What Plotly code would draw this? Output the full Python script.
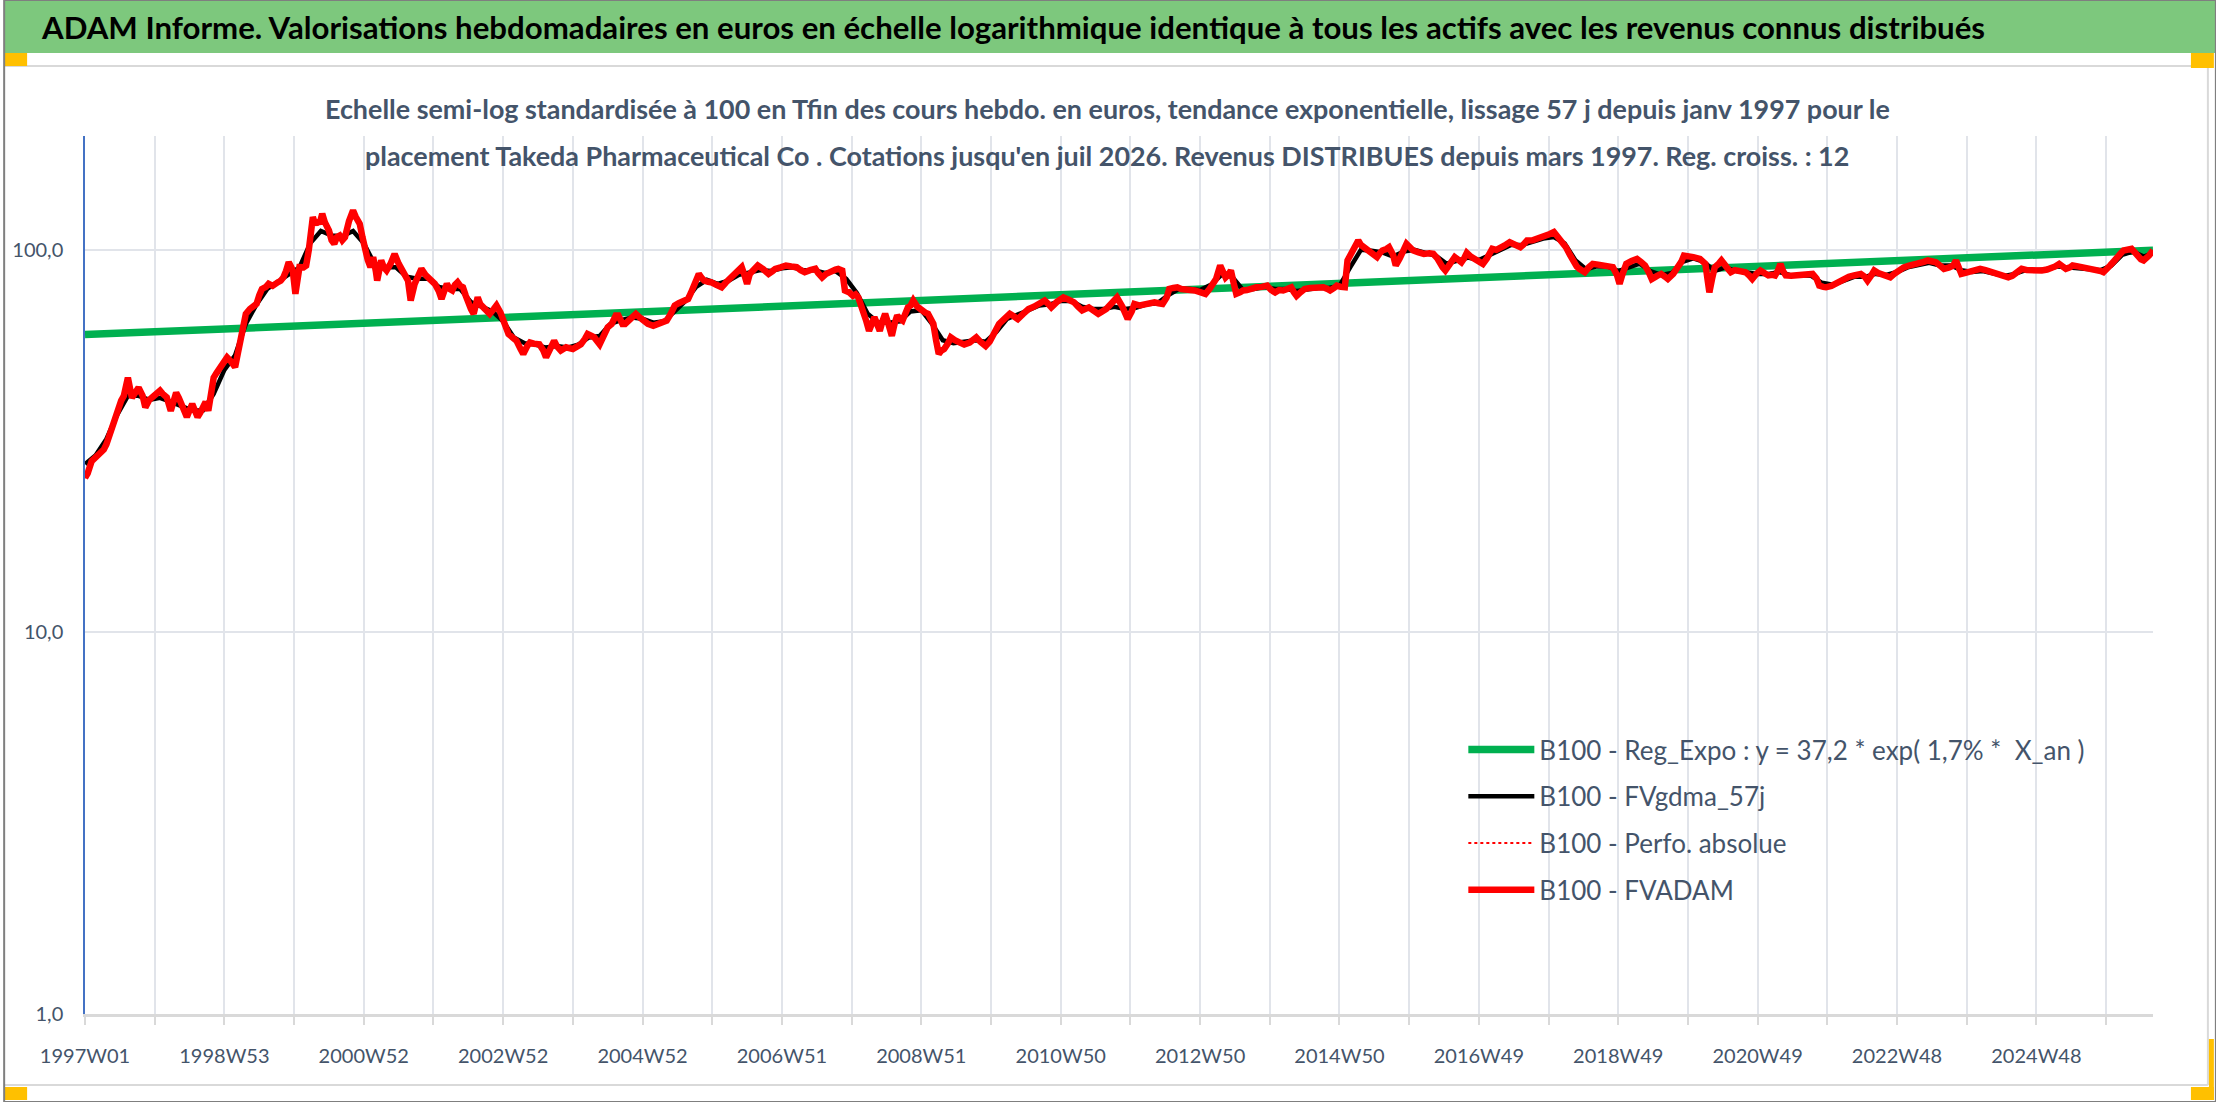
import plotly.graph_objects as go

# Taille de l'image et zone de tracé (pixels)
W, H = 2216, 1102
PL, PR, PT, PB = 81, 2153, 136, 1014

N_WEEKS = 1544  # 1997W01 -> juil 2026, une valeur par semaine

# Etiquettes de l'axe des catégories (une toutes les 104 semaines)
tick_labels = ["1997W01", "1998W53", "2000W52", "2002W52", "2004W52", "2006W51",
               "2008W51", "2010W50", "2012W50", "2014W50", "2016W49", "2018W49",
               "2020W49", "2022W48", "2024W48"]
y_ticks = [1, 10, 100]

# B100 - Reg_Expo (droite en semi-log) : valeurs début / fin
reg_weeks = [0, 1543]
reg_values = [60.0, 99.8]

# B100 - FVgdma_57j (moyenne lissée), une lecture toutes les 8 semaines
gdma_values = [
    27.5, 29, 32, 37, 41.5, 41.5, 40.5, 41, 40, 39, 38, 38, 42, 48.5, 53, 64,
    72, 79, 82.5, 86.5, 90, 104, 112, 109, 108.5, 112, 104, 92, 90, 90, 85, 84,
    84, 80, 79, 79, 73, 71, 69, 65, 59, 57, 56.5, 55.5, 56, 55.5, 56.5, 59,
    59.5, 64, 65.5, 66.5, 66, 64.5, 65, 69, 73.5, 80, 83.5, 81.5, 83, 86, 87, 88.5,
    88, 89.5, 90, 88.5, 88.5, 87, 88, 84, 77, 68, 64.5, 64.5, 65, 69, 69.5, 64,
    58, 57, 57.5, 58, 57.5, 61, 66, 67.5, 69.5, 71.5, 72, 73.5, 73.5, 71, 70, 70,
    71, 70, 70.5, 72, 72.5, 76, 79, 79, 78.5, 81, 86, 85, 78.5, 79, 80, 79,
    79, 78, 79, 79.5, 79.5, 80.5, 90, 100, 99.5, 98.5, 96, 99, 100, 98, 96.5, 92,
    93.5, 95.5, 94, 97, 100.5, 103, 103, 105, 107, 108, 104, 94, 89, 90.5, 90.5, 88,
    90, 92, 88, 86, 87, 93, 95, 93, 88, 90, 88, 87, 86.5, 86.5, 87.5, 86,
    85.5, 85.5, 82, 81, 83, 85, 85, 86.5, 86, 87.5, 90, 91.5, 92.5, 91, 91, 88.5,
    87.5, 88, 87, 85.5, 86.5, 88.5, 88.5, 89, 90.5, 90, 90, 89.5, 88.5, 91, 97, 99,
    96, 98,
]
gdma_weeks = list(range(0, 1537, 8)) + [1543]

# B100 - FVADAM : (semaine depuis 1997W01, valeur)
fvadam = [
    (0, 25.3), (2, 26.0), (5, 28.0), (8, 28.6), (11, 29.2), (14, 30.0), (16, 31.0), (19, 33.5),
    (21, 35.0), (24, 38.0), (27, 40.3), (29, 41.5), (32, 46.3), (35, 41.0), (38, 42.5), (40, 43.6),
    (43, 41.5), (45, 38.7), (48, 40.5), (50, 41.1), (53, 42.0), (56, 42.8), (58, 42.0), (61, 41.1),
    (64, 37.9), (66, 40.5), (68, 42.3), (70, 41.0), (72, 39.5), (74, 38.0), (76, 36.5), (78, 38.0),
    (80, 39.5), (82, 38.0), (84, 36.5), (86, 37.5), (88, 38.7), (90, 40.0), (92, 37.9), (94, 42.0),
    (96, 46.3), (98, 47.5), (101, 49.3), (103, 50.5), (106, 52.3), (109, 51.0), (112, 49.3), (114, 53.5),
    (116, 59.0), (118, 64.0), (120, 68.0), (123, 70.0), (126, 71.0), (128, 72.2), (130, 76.0), (132, 79.0),
    (135, 80.0), (137, 81.5), (140, 80.5), (142, 82.0), (144, 82.3), (146, 83.0), (148, 84.7), (150, 88.0),
    (152, 92.8), (154, 90.0), (155, 88.3), (157, 76.7), (159, 86.0), (160, 90.1), (163, 90.0), (165, 91.0),
    (167, 100.0), (170, 121.8), (172, 116.0), (173, 119.4), (175, 117.0), (177, 124.3), (179, 118.0), (182, 112.4),
    (184, 106.0), (186, 103.7), (188, 108.0), (190, 109.0), (192, 106.0), (194, 108.0), (197, 119.0), (200, 126.8),
    (202, 122.0), (205, 117.0), (207, 108.0), (209, 99.6), (211, 94.0), (213, 90.1), (215, 95.7), (217, 88.0),
    (218, 83.1), (220, 90.0), (221, 93.8), (223, 90.0), (225, 88.3), (228, 92.0), (231, 97.6), (234, 92.0),
    (237, 88.3), (239, 86.0), (241, 83.1), (243, 73.7), (245, 80.0), (246, 81.5), (249, 86.0), (251, 89.2),
    (254, 86.0), (257, 83.9), (259, 82.5), (261, 81.5), (264, 78.0), (266, 74.4), (268, 78.0), (270, 81.5),
    (272, 79.0), (274, 78.3), (276, 81.0), (278, 82.3), (280, 80.5), (282, 79.8), (284, 76.0), (286, 72.2),
    (288, 70.0), (290, 68.0), (292, 72.0), (293, 75.1), (295, 72.0), (297, 70.7), (300, 69.0), (302, 68.0),
    (305, 70.0), (307, 71.5), (310, 68.5), (312, 65.3), (314, 62.5), (316, 60.2), (319, 59.0), (322, 57.8),
    (325, 55.0), (327, 53.4), (330, 56.0), (332, 57.2), (335, 56.8), (339, 56.6), (342, 54.5), (344, 52.3),
    (347, 55.0), (350, 57.8), (352, 56.0), (355, 54.5), (359, 55.6), (362, 55.0), (364, 55.0), (367, 55.8),
    (370, 56.6), (373, 58.5), (375, 60.2), (378, 59.5), (380, 59.0), (384, 56.6), (387, 60.0), (390, 62.7),
    (393, 64.0), (396, 67.3), (398, 67.3), (401, 64.0), (403, 64.0), (407, 66.0), (411, 68.0), (414, 66.5),
    (417, 65.3), (420, 64.0), (424, 63.3), (428, 64.0), (431, 65.0), (434, 65.3), (437, 68.0), (440, 71.5),
    (443, 72.5), (447, 73.5), (450, 74.4), (452, 77.0), (454, 79.8), (456, 83.0), (458, 86.5), (460, 84.5),
    (462, 83.1), (465, 82.5), (467, 82.3), (471, 81.0), (475, 79.8), (478, 82.0), (482, 84.7), (486, 87.0),
    (490, 90.1), (492, 86.0), (494, 81.5), (496, 86.5), (499, 88.5), (502, 91.0), (506, 89.0), (510, 86.5),
    (513, 88.0), (515, 89.2), (519, 90.0), (523, 91.0), (527, 90.5), (531, 90.1), (534, 88.5), (537, 87.4),
    (541, 88.5), (545, 89.2), (547, 87.0), (550, 84.7), (553, 86.5), (557, 88.3), (560, 88.8), (562, 89.2),
    (565, 88.3), (567, 78.3), (570, 77.5), (573, 75.8), (575, 76.5), (577, 75.1), (579, 72.0), (581, 69.4),
    (583, 65.0), (585, 61.4), (587, 64.0), (589, 66.6), (591, 64.0), (593, 61.4), (595, 65.0), (597, 68.0),
    (600, 63.0), (602, 59.6), (604, 64.0), (606, 67.3), (608, 66.0), (610, 65.3), (612, 68.0), (614, 70.7),
    (616, 71.5), (618, 73.7), (621, 71.0), (624, 69.4), (627, 68.5), (629, 68.0), (631, 66.0), (633, 64.0),
    (635, 58.0), (637, 53.4), (639, 54.5), (641, 55.0), (644, 57.0), (646, 59.0), (649, 58.0), (653, 57.2),
    (656, 56.5), (660, 57.2), (663, 58.5), (665, 59.0), (668, 57.5), (672, 56.0), (675, 57.5), (677, 59.0),
    (680, 61.5), (682, 64.0), (686, 66.0), (690, 68.0), (693, 67.0), (696, 65.9), (700, 68.0), (704, 70.0),
    (708, 71.0), (712, 72.2), (716, 73.7), (719, 72.0), (721, 70.7), (725, 73.0), (730, 75.1), (734, 74.0),
    (738, 72.9), (741, 71.0), (744, 69.4), (749, 70.7), (752, 69.5), (756, 68.0), (759, 69.0), (762, 70.0),
    (766, 72.5), (770, 75.1), (774, 71.0), (778, 65.9), (781, 69.0), (783, 72.2), (787, 71.5), (791, 72.2),
    (795, 72.5), (798, 72.9), (801, 72.5), (804, 72.2), (807, 75.0), (809, 79.0), (812, 79.5), (815, 79.8),
    (818, 79.0), (821, 79.0), (825, 78.5), (828, 78.3), (832, 77.5), (836, 76.7), (839, 79.0), (841, 80.6),
    (844, 84.0), (847, 91.0), (849, 87.0), (851, 84.7), (853, 86.0), (855, 88.3), (857, 82.0), (859, 76.7),
    (862, 77.5), (864, 78.3), (867, 78.5), (869, 79.0), (872, 79.5), (874, 79.8), (878, 80.0), (882, 80.6),
    (885, 78.5), (888, 77.4), (891, 78.5), (894, 78.3), (897, 79.0), (900, 79.8), (902, 77.5), (904, 75.8),
    (907, 77.5), (910, 79.0), (914, 79.5), (917, 79.8), (921, 79.5), (924, 79.8), (927, 79.0), (929, 78.3),
    (932, 79.5), (934, 80.6), (937, 80.0), (940, 79.8), (942, 93.8), (944, 97.0), (946, 99.6), (948, 103.0),
    (950, 105.8), (952, 103.0), (954, 101.6), (956, 100.5), (958, 99.6), (961, 97.5), (964, 95.7), (966, 98.0),
    (968, 99.6), (971, 100.5), (973, 101.6), (976, 97.0), (978, 91.0), (981, 95.0), (983, 99.0), (986, 103.7),
    (988, 102.0), (991, 99.6), (995, 98.5), (999, 97.6), (1003, 98.0), (1006, 97.6), (1009, 95.0), (1011, 91.9),
    (1013, 90.0), (1015, 88.3), (1018, 91.0), (1022, 95.7), (1025, 94.0), (1027, 92.8), (1029, 95.0), (1031, 98.2),
    (1034, 96.0), (1038, 93.8), (1041, 93.0), (1043, 91.9), (1046, 95.0), (1050, 100.6), (1053, 100.0), (1055, 100.6),
    (1059, 102.5), (1063, 104.7), (1067, 103.0), (1071, 101.6), (1073, 103.0), (1076, 105.8), (1080, 106.0), (1084, 106.9),
    (1087, 108.0), (1090, 109.0), (1093, 110.0), (1096, 111.3), (1098, 109.0), (1100, 106.9), (1103, 104.0), (1105, 101.6),
    (1108, 97.0), (1111, 91.9), (1113, 90.5), (1115, 89.2), (1117, 88.5), (1119, 87.4), (1122, 90.0), (1125, 91.9),
    (1129, 91.5), (1133, 91.0), (1137, 90.5), (1140, 90.1), (1143, 86.0), (1145, 81.5), (1147, 86.0), (1150, 91.9),
    (1154, 93.5), (1158, 94.7), (1161, 93.0), (1164, 91.0), (1167, 87.0), (1169, 83.9), (1173, 85.5), (1176, 86.5),
    (1179, 85.0), (1181, 83.9), (1185, 86.5), (1188, 89.2), (1191, 93.0), (1193, 96.6), (1197, 96.6), (1200, 95.7),
    (1205, 94.7), (1209, 91.9), (1211, 82.0), (1212, 77.4), (1214, 84.0), (1216, 90.1), (1219, 92.0), (1221, 93.8),
    (1225, 90.0), (1228, 87.4), (1231, 88.5), (1234, 88.3), (1237, 88.0), (1239, 87.4), (1242, 85.5), (1244, 83.9),
    (1247, 86.5), (1250, 88.3), (1253, 87.0), (1256, 85.7), (1259, 86.0), (1261, 85.7), (1263, 88.0), (1265, 91.9),
    (1267, 88.0), (1269, 85.7), (1273, 85.5), (1276, 85.7), (1280, 86.0), (1284, 85.7), (1287, 86.0), (1289, 86.5),
    (1292, 84.0), (1294, 80.6), (1297, 80.0), (1299, 79.8), (1303, 80.5), (1306, 81.5), (1309, 83.0), (1312, 83.9),
    (1316, 85.0), (1320, 85.7), (1323, 86.0), (1325, 86.5), (1328, 85.0), (1330, 83.1), (1333, 86.0), (1335, 88.3),
    (1338, 87.0), (1340, 86.5), (1344, 85.5), (1347, 84.7), (1350, 86.5), (1353, 88.3), (1357, 90.0), (1361, 91.0),
    (1365, 91.5), (1368, 91.9), (1372, 93.0), (1375, 93.8), (1378, 93.0), (1381, 92.8), (1384, 91.0), (1387, 89.2),
    (1391, 90.0), (1394, 91.0), (1396, 93.8), (1398, 89.0), (1400, 86.5), (1403, 87.0), (1406, 87.4), (1410, 88.5),
    (1414, 89.2), (1418, 88.5), (1422, 87.4), (1426, 86.5), (1429, 85.7), (1432, 85.0), (1435, 84.7), (1438, 85.5),
    (1440, 86.5), (1443, 88.0), (1445, 89.2), (1449, 88.5), (1452, 88.3), (1456, 88.0), (1460, 88.3), (1464, 88.8),
    (1467, 89.2), (1470, 90.5), (1473, 91.9), (1476, 90.5), (1478, 89.2), (1481, 90.0), (1483, 91.0), (1487, 90.5),
    (1490, 90.1), (1493, 89.5), (1495, 89.2), (1498, 89.0), (1501, 89.2), (1504, 88.0), (1506, 87.4), (1509, 89.0),
    (1511, 91.0), (1514, 93.5), (1516, 95.7), (1519, 98.0), (1521, 99.6), (1524, 100.0), (1527, 100.6), (1530, 98.0),
    (1532, 95.7), (1534, 94.5), (1536, 93.8), (1538, 95.0), (1540, 96.6), (1543, 99.8),
]
adam_weeks = [w for w, v in fvadam]
adam_values = [v for w, v in fvadam]

TXT = "#44546A"
FONT = "Lato"


def px_x(p):
    return (p - PL) / (PR - PL)


def px_y(p):
    return (PB - p) / (PB - PT)


fig = go.Figure()

fig.add_trace(go.Scatter(
    x=reg_weeks, y=reg_values, mode="lines", legendgroup="a",
    name="B100 - Reg_Expo : y = 37,2 * exp( 1,7% *  X_an )",
    line=dict(color="#00B050", width=7.5),
))
fig.add_trace(go.Scatter(
    x=gdma_weeks, y=gdma_values, mode="lines", legendgroup="b",
    name="B100 - FVgdma_57j", line=dict(color="black", width=4.5),
))
fig.add_trace(go.Scatter(
    x=adam_weeks, y=adam_values, mode="lines", legendgroup="c",
    name="B100 - Perfo. absolue", line=dict(color="#FF0000", width=2, dash="dot"),
))
fig.add_trace(go.Scatter(
    x=adam_weeks, y=adam_values, mode="lines", legendgroup="d",
    name="B100 - FVADAM", line=dict(color="#FF0000", width=6.5),
))

# Graduations : grille toutes les 52 semaines, étiquette toutes les 104
grid_vals = list(range(0, N_WEEKS, 52))
grid_text = [tick_labels[i // 2] if i % 2 == 0 and i // 2 < len(tick_labels) else "" for i in range(len(grid_vals))]

fig.update_xaxes(
    range=[0, N_WEEKS - 1], tickmode="array", tickvals=grid_vals, ticktext=grid_text,
    showgrid=True, gridcolor="#E1E4EA", gridwidth=1.5,
    showline=True, linecolor="#D9D9D9", linewidth=2.5,
    ticks="outside", ticklen=8, tickcolor="#D9D9D9", tickwidth=1.5,
    ticklabelstandoff=14, tickangle=0,
    tickfont=dict(family=FONT, size=20, color=TXT), zeroline=False,
)
fig.update_yaxes(
    type="log", range=[0, 2.298], tickmode="array", tickvals=y_ticks, tickformat=".1f",
    showgrid=True, gridcolor="#E1E4EA", gridwidth=1.5,
    showline=True, linecolor="#4472C4", linewidth=1.5, ticks="",
    ticklabelstandoff=16,
    tickfont=dict(family=FONT, size=20, color=TXT),
)

shapes = [
    # bandeau vert du titre
    dict(type="rect", x0=px_x(0), x1=px_x(W), y0=px_y(0), y1=px_y(53),
         fillcolor="#7DC87D", line=dict(width=0)),
    # cadre gris du graphique
    dict(type="line", x0=px_x(0), x1=px_x(2208), y0=px_y(66), y1=px_y(66), line=dict(color="#D9D9D9", width=2)),
    dict(type="line", x0=px_x(2208), x1=px_x(2208), y0=px_y(66), y1=px_y(1085), line=dict(color="#D9D9D9", width=2)),
    dict(type="line", x0=px_x(0), x1=px_x(2208), y0=px_y(1085), y1=px_y(1085), line=dict(color="#D9D9D9", width=2)),
    # poignées de sélection
    dict(type="rect", x0=px_x(0), x1=px_x(23), y0=px_y(53), y1=px_y(66), fillcolor="#FFC000", line=dict(width=0)),
    dict(type="rect", x0=px_x(2191), x1=px_x(2214), y0=px_y(53), y1=px_y(68), fillcolor="#FFC000", line=dict(width=0)),
    dict(type="rect", x0=px_x(0), x1=px_x(23), y0=px_y(1087), y1=px_y(1100), fillcolor="#FFC000", line=dict(width=0)),
    dict(type="rect", x0=px_x(2191), x1=px_x(2214), y0=px_y(1087), y1=px_y(1100), fillcolor="#FFC000", line=dict(width=0)),
    dict(type="rect", x0=px_x(2209), x1=px_x(2214), y0=px_y(1039), y1=px_y(1100), fillcolor="#FFC000", line=dict(width=0)),
    # bord extérieur
    dict(type="rect", x0=px_x(0), x1=px_x(W), y0=px_y(0), y1=px_y(H), line=dict(color="#7F7F7F", width=2)),
]
for s in shapes:
    s.update(xref="paper", yref="paper")

annotations = [
    dict(text="<b>ADAM Informe. Valorisations hebdomadaires en euros en échelle logarithmique identique "
              "à tous les actifs avec les revenus connus distribués</b>",
         x=px_x(35), y=px_y(27), xanchor="left", yanchor="middle",
         font=dict(family=FONT, size=31.2, color="black")),
    dict(text="<b>Echelle semi-log standardisée à 100 en Tfin des cours hebdo. en euros, tendance "
              "exponentielle, lissage 57 j depuis janv 1997 pour le</b>",
         x=px_x(1105), y=px_y(109), xanchor="center", yanchor="middle",
         font=dict(family=FONT, size=26.9, color=TXT)),
    dict(text="<b>placement Takeda Pharmaceutical Co . Cotations jusqu'en juil 2026. Revenus DISTRIBUES "
              "depuis mars 1997. Reg. croiss. : 12</b>",
         x=px_x(1105), y=px_y(155), xanchor="center", yanchor="middle",
         font=dict(family=FONT, size=26.9, color=TXT)),
]
for a in annotations:
    a.update(xref="paper", yref="paper", showarrow=False)

fig.update_layout(
    width=W, height=H, autosize=False,
    margin=dict(l=PL, r=W - PR, t=PT, b=H - PB, pad=0),
    paper_bgcolor="white", plot_bgcolor="white",
    separators=", ",
    shapes=shapes, annotations=annotations,
    showlegend=True,
    legend=dict(
        x=px_x(1462), y=px_y(726),
        xanchor="left", yanchor="top", bgcolor="rgba(0,0,0,0)",
        font=dict(family=FONT, size=26, color=TXT),
        itemwidth=66, tracegroupgap=10, traceorder="grouped",
    ),
)

# la page est photographiée depuis le coin haut-gauche : pas de marge du body
fig.write_html("out.html", config={"displayModeBar": False},
               post_script="document.body.style.margin='0';")
